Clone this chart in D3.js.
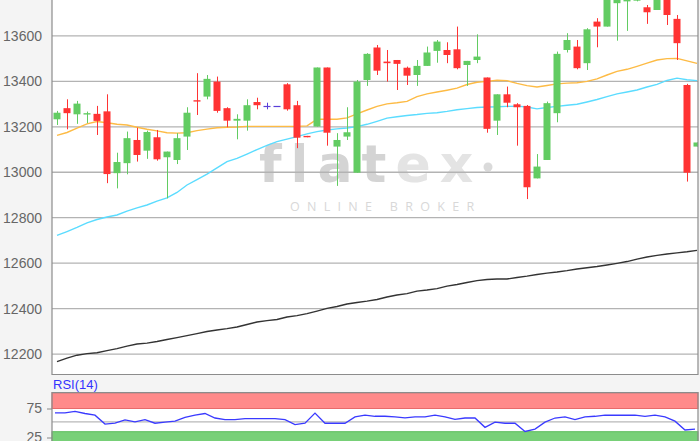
<!DOCTYPE html>
<meta charset="utf-8">
<style>
body { margin: 0; background: #f4f4f4; }
svg { display: block; font-family: "Liberation Sans", Arial, sans-serif; }
</style>
<body>
<svg width="700" height="441"></svg>
<script src="https://d3js.org/d3.v7.min.js"></script>
<script>

// daily candles
var opens  = [13233,13282,13255,13254,13257,13268,12996,13040,13142,13095,13154,13066,13054,13157,13317,13333,13399,13282,13227,13227,
              13309,13292,13292,13387,13295,13160,13201,13461,13113,13157,12998,13406,13549,13487,13494,13460,13428,13468,13534,13538,
              13541,13472,13494,13417,13227,13343,13299,13292,12973,13054,13260,13538,13553,13480,13663,13641,13744,13752,13755,13726,
              13714,13790,13675,13384,13113];
var highs  = [13270,13321,13314,13267,13292,13343,13086,13179,13196,13183,13186,13091,13172,13286,13436,13428,13421,13286,13255,13321,
              13328,13306,13292,13392,13314,13160,13461,13461,13172,13286,13406,13524,13560,13538,13494,13465,13494,13553,13582,13572,
              13641,13490,13607,13417,13343,13377,13304,13296,13080,13311,13531,13612,13582,13634,13678,13800,13790,13790,13800,13736,
              13790,13800,13692,13389,13131];
var lows   = [13208,13189,13213,13216,13164,12952,12929,12991,13047,13059,13051,12885,13036,13098,13252,13321,13262,13198,13145,13183,
              13277,13277,13292,13271,13106,13154,13201,13117,12940,13142,12998,13380,13428,13399,13362,13384,13380,13468,13482,13480,
              13453,13380,13480,13174,13164,13286,13117,12882,12973,13054,13220,13527,13453,13450,13550,13641,13579,13622,13752,13653,
              13714,13648,13494,12959,13113];
var closes = [13262,13260,13302,13260,13226,12992,13045,13150,13076,13177,13057,13091,13150,13262,13311,13411,13270,13227,13235,13295,
              13295,13292,13292,13277,13152,13154,13461,13174,13142,13176,13399,13521,13447,13480,13477,13425,13468,13527,13575,13516,
              13458,13490,13509,13191,13343,13306,13286,12934,13025,13304,13521,13582,13458,13629,13641,13790,13775,13780,13790,13704,
              13775,13692,13568,12998,13131];

// moving averages
var maOrange = [13162,13175,13194,13213,13223,13218,13211,13208,13198,13189,13182,13174,13172,13174,13183,13190,13196,13198,13199,13202,
                13202,13202,13202,13202,13202,13204,13233,13233,13233,13239,13257,13274,13290,13301,13306,13312,13333,13345,13353,13361,
                13370,13386,13396,13400,13405,13403,13391,13381,13375,13382,13389,13392,13394,13400,13411,13428,13444,13453,13466,13480,
                13494,13500,13501,13490,13479];
var maBlue   = [12722,12739,12757,12777,12792,12803,12812,12829,12843,12856,12873,12887,12911,12944,12968,12992,13019,13047,13061,13080,
                13100,13118,13135,13146,13157,13169,13179,13186,13191,13195,13201,13211,13224,13238,13244,13250,13254,13259,13262,13268,
                13275,13280,13285,13287,13288,13290,13291,13287,13279,13285,13290,13295,13299,13309,13320,13333,13345,13353,13362,13375,
                13387,13404,13414,13407,13403];
var maBlack  = [12167,12182,12195,12202,12206,12215,12224,12235,12244,12248,12255,12264,12272,12281,12290,12299,12306,12312,12319,12330,
                12341,12347,12352,12363,12369,12378,12389,12401,12409,12420,12427,12433,12440,12451,12460,12466,12477,12482,12488,12499,
                12506,12515,12523,12528,12530,12530,12537,12543,12550,12556,12561,12567,12574,12580,12585,12592,12599,12607,12618,12627,
                12634,12640,12645,12650,12656];

// RSI(14)
var rsi = [67.5,67.5,70,66.4,63.4,48.2,49.6,55.4,52.1,55.7,49.6,51.4,53.2,59.8,63.4,66.4,58.6,55.7,55.7,57.5,
           57.5,57.5,57.5,55.7,47.3,49.6,67,49.6,49.6,49.6,60.4,63.4,61.6,61.6,60.4,58.9,60.4,60.4,63.4,60.4,
           56.3,58.6,58.6,42.5,51.4,49.6,49.6,35.4,39.6,51.4,58.6,60.4,55.7,60.4,61.6,63.4,63.4,63.4,63.4,61.6,
           63.4,60.4,53.2,37.9,39.6];

var yTicks = [12200,12400,12600,12800,13000,13200,13400,13600];
var rsiTicks = [25,75];

var svg = d3.select("svg");

var plotL = 52, plotR = 698, plotT = 0, plotB = 374.5;
var rsiT = 392.7, rsiB = 446;

var x = d3.scaleBand().domain(d3.range(opens.length)).range([52, 702])
    .paddingInner(0.3).paddingOuter(0.15);
var y = d3.scaleLinear().domain([12110, 13758]).range([plotB, plotT]);
var yR = d3.scaleLinear().domain([25, 75]).range([437.5, 408.5]);
var cx = function(i) { return x(i) + x.bandwidth() / 2; };

// plot backgrounds
svg.append("rect").attr("x", plotL).attr("y", -2).attr("width", plotR - plotL).attr("height", plotB + 2).attr("fill", "#fff");

svg.append("clipPath").attr("id", "clip")
  .append("rect").attr("x", plotL).attr("y", plotT).attr("width", plotR - plotL).attr("height", plotB - plotT);

var plot = svg.append("g").attr("clip-path", "url(#clip)");

// watermark
var wm = plot.append("text").attr("x", 259).attr("y", 182)
    .style("font-family", "'DejaVu Sans', sans-serif").style("font-weight", 700)
    .style("font-size", "52px").style("letter-spacing", "9px");
wm.append("tspan").attr("fill", "#d4d4d4").text("flat");
wm.append("tspan").attr("fill", "#e4e4e4").text("ex");
plot.append("circle").attr("cx", 488).attr("cy", 167).attr("r", 4.5).attr("fill", "#dadada");
plot.append("text").attr("x", 290).attr("y", 211)
    .style("font-family", "'Open Sans', sans-serif").style("font-size", "12.5px")
    .style("letter-spacing", "7.3px").attr("fill", "#d8d8d8").text("ONLINE BROKER");

// grid
plot.append("g").selectAll("line").data(yTicks).enter().append("line")
    .attr("x1", plotL).attr("x2", plotR)
    .attr("y1", function(d) { return y(d); }).attr("y2", function(d) { return y(d); })
    .attr("stroke", "#b3b3b3").attr("stroke-width", 1.3);

// moving average lines
function maLine(vals, color) {
  var line = d3.line().x(function(d, i) { return cx(i); }).y(function(d) { return y(d); });
  plot.append("path").datum(vals).attr("d", line)
      .attr("fill", "none").attr("stroke", color).attr("stroke-width", 1.4);
}
maLine(maBlack, "#333");
maLine(maBlue, "#5bdcff");
maLine(maOrange, "#fdbb45");

// candles
function candleColor(i) {
  if (closes[i] > opens[i]) return "#62cc62";
  if (closes[i] < opens[i]) return "#ff3333";
  return "#5a3fd8";
}
var candles = plot.append("g").selectAll("g").data(d3.range(opens.length)).enter().append("g");
candles.append("line")
    .attr("x1", function(i) { return Math.round(cx(i)) + 0.5; })
    .attr("x2", function(i) { return Math.round(cx(i)) + 0.5; })
    .attr("y1", function(i) { return y(highs[i]); })
    .attr("y2", function(i) { return y(lows[i]); })
    .attr("stroke", candleColor).attr("stroke-width", 1);
candles.append("rect")
    .attr("x", function(i) { return x(i); })
    .attr("width", x.bandwidth())
    .attr("y", function(i) { return y(Math.max(opens[i], closes[i])); })
    .attr("height", function(i) { return Math.max(1.2, Math.abs(y(opens[i]) - y(closes[i]))); })
    .attr("fill", candleColor);

// frame of main chart
svg.append("path")
    .attr("d", "M" + plotL + "," + plotT + "V" + plotB + "H" + plotR + "V" + plotT)
    .attr("fill", "none").attr("stroke", "#8c8c8c").attr("stroke-width", 1.2);

// y axis labels
var yAxis = svg.append("g").attr("transform", "translate(" + plotL + ",0)")
    .call(d3.axisLeft(y).tickValues(yTicks).tickSize(0).tickPadding(10).tickFormat(d3.format("d")));
yAxis.select(".domain").remove();
yAxis.selectAll("text").style("font-size", "14px").style("font-family", "'Liberation Sans', Arial, sans-serif").attr("fill", "#666");

// RSI panel
svg.append("rect").attr("x", plotL).attr("y", rsiT).attr("width", plotR - plotL).attr("height", rsiB - rsiT).attr("fill", "#fff");
svg.append("rect").attr("x", plotL).attr("y", rsiT).attr("width", plotR - plotL).attr("height", yR(75) - rsiT)
    .attr("fill", "#ff8a8a").attr("stroke", "#e86a6a").attr("stroke-width", 1);
svg.append("rect").attr("x", plotL).attr("y", yR(35)).attr("width", plotR - plotL).attr("height", rsiB - yR(35))
    .attr("fill", "#78d078").attr("stroke", "#5cbc5c").attr("stroke-width", 1);
svg.append("line").attr("x1", plotL).attr("x2", plotR).attr("y1", yR(52)).attr("y2", yR(52))
    .attr("stroke", "#b8b8b8").attr("stroke-width", 1.2);

svg.append("path").datum(rsi)
    .attr("d", d3.line().x(function(d, i) { return cx(i) - 2; }).y(function(d) { return yR(d); }))
    .attr("fill", "none").attr("stroke", "#3a3aff").attr("stroke-width", 1.3);

svg.append("path")
    .attr("d", "M" + plotL + "," + rsiB + "V" + rsiT + "H" + plotR + "V" + rsiB)
    .attr("fill", "none").attr("stroke", "#8c8c8c").attr("stroke-width", 1.2);

var rAxis = svg.append("g").attr("transform", "translate(" + plotL + ",0)")
    .call(d3.axisLeft(yR).tickValues(rsiTicks).tickSize(5).tickPadding(5));
rAxis.select(".domain").remove();
rAxis.selectAll("line").attr("stroke", "#888");
rAxis.selectAll("text").style("font-size", "14px").style("font-family", "'Liberation Sans', Arial, sans-serif").attr("fill", "#666");

svg.append("text").attr("x", 53).attr("y", 389).attr("fill", "#3333ff")
    .style("font-size", "13px").text("RSI(14)");

</script>
</body>
</html>
